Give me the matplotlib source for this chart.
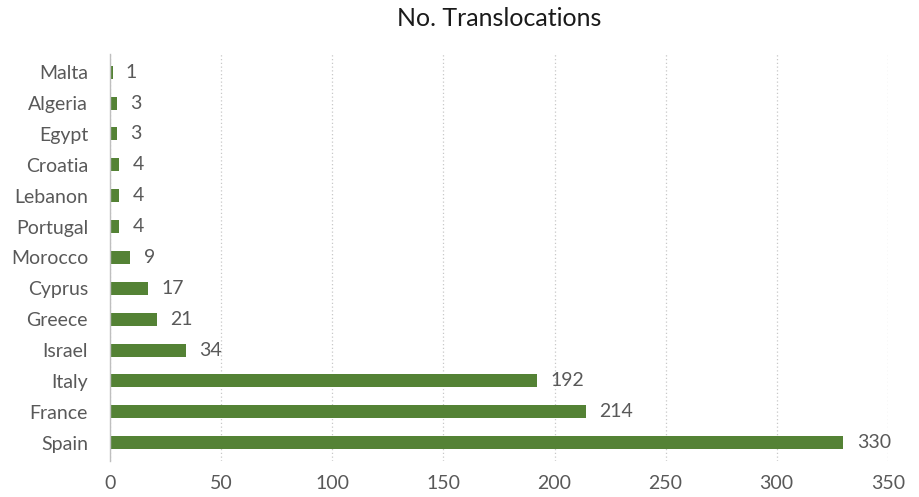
import matplotlib
matplotlib.use("Agg")
import matplotlib.pyplot as plt

# translocations per country (top to bottom as shown)
countries = ["Malta", "Algeria", "Egypt", "Croatia", "Lebanon", "Portugal", "Morocco",
             "Cyprus", "Greece", "Israel", "Italy", "France", "Spain"]
counts = [1, 3, 3, 4, 4, 4, 9, 17, 21, 34, 192, 214, 330]
xticks = [0, 50, 100, 150, 200, 250, 300, 350]

plt.rcParams['font.family'] = ['Lato', 'DejaVu Sans']
text_col = '#595959'
bar_col = '#548235'

fig = plt.figure(figsize=(9.19, 4.97), dpi=100)
ax = fig.add_axes([0.12, 0.072, 0.846, 0.82])

pos = list(range(len(countries)))[::-1]
ax.barh(pos, counts, height=0.42, color=bar_col)

for p, c in zip(pos, counts):
    ax.text(c + 6, p, str(c), va='center', ha='left', fontsize=14, color=text_col)

ax.set_xlim(0, 350)
ax.set_ylim(-0.6, len(countries) - 0.4)
ax.set_xticks(xticks)
ax.set_yticks(pos)
ax.set_yticklabels(countries)
ax.tick_params(axis='both', length=0, labelsize=14, colors=text_col)
ax.tick_params(axis='x', pad=10)
ax.tick_params(axis='y', pad=16)

ax.grid(axis='x', linestyle=(0, (1, 2)), color='#c8c8c8', linewidth=0.9)
ax.set_axisbelow(True)
for s in ['top', 'right', 'bottom']:
    ax.spines[s].set_visible(False)
ax.spines['left'].set_color('#bfbfbf')
ax.spines['left'].set_linewidth(1.0)

ax.set_title('No. Translocations', fontsize=18, color='#1a1a1a', pad=20)

fig.savefig('out.png', dpi=100)
